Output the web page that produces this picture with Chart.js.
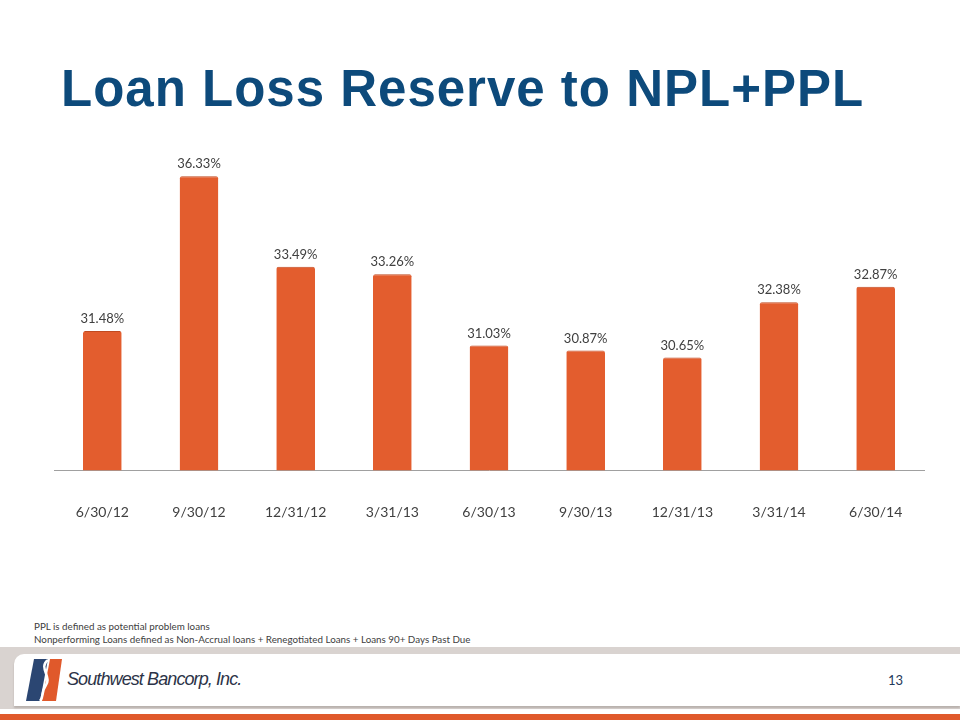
<!DOCTYPE html>
<html>

<head>
  <title>Loan Loss Reserve to NPL+PPL</title>
  <script src="https://cdn.jsdelivr.net/npm/chart.js@4.4.0/dist/chart.umd.min.js"></script>

  <style>
    body {
      margin: 0;
      background-color: white;
      width: 960px;
      height: 720px;
      overflow: hidden;
      position: relative;
      font-family: 'Liberation Sans', Arial, sans-serif;
    }

    h1 {
      position: absolute;
      left: 61px;
      top: 61px;
      margin: 0;
      font-size: 51px;
      letter-spacing: 1px;
      line-height: 56px;
      font-weight: bold;
      color: #0d4a7b;
      white-space: nowrap;
    }

    #chartBox {
      position: absolute;
      left: 0;
      top: 130px;
    }

    .notes {
      position: absolute;
      left: 34px;
      top: 620px;
      font-family: Lato, sans-serif;
      font-size: 9.8px;
      line-height: 13px;
      color: #404040;
    }

    .band {
      position: absolute;
      left: 0;
      top: 647px;
      width: 960px;
      height: 62px;
      background: #d9d3d0;
    }

    .panel {
      position: absolute;
      left: 14px;
      top: 654px;
      width: 946px;
      height: 52px;
      background: #ffffff;
      border-top-left-radius: 10px;
      box-shadow: 0 2px 2px #b8b0ac;
    }

    .orange {
      position: absolute;
      left: 0;
      top: 714px;
      width: 960px;
      height: 6px;
      background: #e0592b;
    }

    .brand {
      position: absolute;
      left: 67px;
      top: 669px;
      font-family: 'Liberation Sans', Arial, sans-serif;
      font-style: italic;
      font-size: 18px;
      letter-spacing: -0.9px;
      color: #2c3347;
    }

    .page {
      position: absolute;
      left: 888px;
      top: 672px;
      font-family: Lato, sans-serif;
      font-size: 13px;
      color: #1f3a5a;
    }

    .logo {
      position: absolute;
      left: 26px;
      top: 659px;
    }
  </style>
</head>

<body>
  <h1>Loan Loss Reserve to NPL+PPL</h1>

  <div id="chartBox">
    <canvas id="reserveChart" width="960" height="417"></canvas>
  </div>

  <div class="notes">
    PPL is defined as potential problem loans<br>
    Nonperforming Loans defined as Non-Accrual loans + Renegotiated Loans + Loans 90+ Days Past Due
  </div>

  <div class="band"></div>
  <div class="panel"></div>
  <svg class="logo" width="40" height="42" viewBox="0 0 40 42">
    <polygon points="8,0 22,0 14,42 0,42" fill="#2b4672" />
    <polygon points="24,0 36,0 30,42 16,42" fill="#e0592b" />
    <path d="M22,1 C12,8 26,18 20,26 C15,33 18,38 14,42" stroke="#ffffff" stroke-width="2.5" fill="none" />
  </svg>
  <div class="brand">Southwest Bancorp, Inc.</div>
  <div class="page">13</div>
  <div class="orange"></div>

  <script>
    const quarters = ['6/30/12', '9/30/12', '12/31/12', '3/31/13', '6/30/13', '9/30/13', '12/31/13', '3/31/14', '6/30/14'];
    const ratios = [31.48, 36.33, 33.49, 33.26, 31.03, 30.87, 30.65, 32.38, 32.87];

    // labels above the bars
    const valueLabels = {
      id: 'valueLabels',
      afterDatasetsDraw(chart) {
        const ctx = chart.ctx;
        const meta = chart.getDatasetMeta(0);
        ctx.save();
        ctx.font = '13px Lato, sans-serif';
        ctx.fillStyle = '#404040';
        ctx.textAlign = 'center';
        ctx.textBaseline = 'middle';
        meta.data.forEach((bar, i) => {
          ctx.fillText(ratios[i].toFixed(2) + '%', bar.x, bar.y - 12);
        });
        ctx.restore();
      }
    };

    function barFill(context) {
      const chart = context.chart;
      const area = chart.chartArea;
      if (!area) return '#e35d2e';
      const bar = context.element;
      if (!bar || bar.width === undefined) return '#e35d2e';
      const x0 = bar.x - bar.width / 2;
      const g = chart.ctx.createLinearGradient(x0, 0, x0 + bar.width, 0);
      g.addColorStop(0, '#b9471f');
      g.addColorStop(0.08, '#e35c2d');
      g.addColorStop(0.5, '#e86132');
      g.addColorStop(0.92, '#e35c2d');
      g.addColorStop(1, '#a9401c');
      return g;
    }

    const ctx = document.getElementById('reserveChart').getContext('2d');
    new Chart(ctx, {
      type: 'bar',
      data: {
        labels: quarters,
        datasets: [{
          data: ratios,
          backgroundColor: barFill,
          borderColor: '#c04a20',
          borderWidth: { top: 1, left: 0, right: 0, bottom: 0 },
          borderRadius: { topLeft: 2, topRight: 2 },
          borderSkipped: 'bottom',
          categoryPercentage: 1,
          barPercentage: 0.4
        }]
      },
      options: {
        responsive: false,
        animation: false,
        layout: {
          padding: { left: 54, right: 36, top: 20, bottom: 0 }
        },
        plugins: {
          legend: { display: false },
          tooltip: { enabled: false },
          title: { display: false }
        },
        scales: {
          x: {
            grid: { display: false },
            border: { display: true, color: '#a0a0a0', width: 1 },
            ticks: {
              color: '#404040',
              font: { family: 'Lato, sans-serif', size: 14 },
              padding: 26,
              maxRotation: 0
            }
          },
          y: {
            display: false,
            min: 27.12,
            max: 37.15
          }
        }
      },
      plugins: [valueLabels]
    });
  </script>
</body>

</html>
